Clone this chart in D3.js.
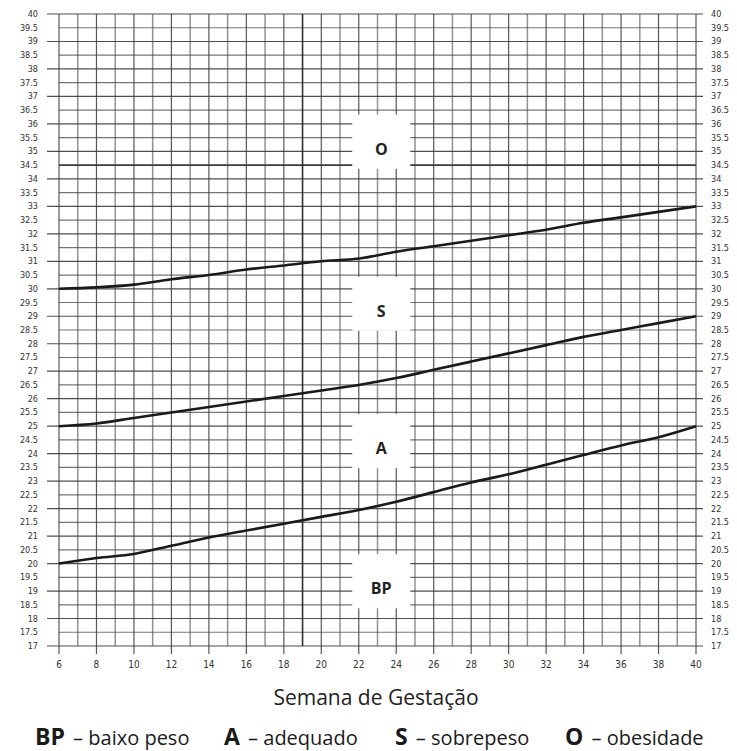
<!DOCTYPE html>
<html><head><meta charset="utf-8">
<script src="https://cdn.jsdelivr.net/npm/d3@7"></script>
<style>body{margin:0;background:#fff}svg{display:block}</style>
</head><body>
<script>
// ---- data ----
const weeks = [6,8,10,12,14,16,18,20,22,24,26,28,30,32,34,36,38,40];
const lineSO  = [30.0,30.05,30.15,30.35,30.5,30.7,30.85,31.0,31.1,31.35,31.55,31.75,31.95,32.15,32.4,32.6,32.8,33.0];
const lineAS  = [25.0,25.1,25.3,25.5,25.7,25.9,26.1,26.3,26.5,26.75,27.05,27.35,27.65,27.95,28.25,28.5,28.75,29.0];
const lineBPA = [20.0,20.2,20.35,20.65,20.95,21.2,21.45,21.7,21.95,22.25,22.6,22.95,23.25,23.6,23.95,24.3,24.6,25.0];
const zoneLabels = ["O","S","A","BP"];
const zoneBMI = [35.1,29.2,24.2,19.1];
const zoneWeek = 23.2;
const xTitle = "Semana de Gestação";
const legendKeys = ["BP","A","S","O"];
const legendTexts = ["– baixo peso","– adequado","– sobrepeso","– obesidade"];

const W = 737, H = 751;
const svg = d3.select("body").append("svg").attr("width",W).attr("height",H);
const x = d3.scaleLinear().domain([6,40]).range([59,696]);
const y = d3.scaleLinear().domain([17,40]).range([646,14]);

const weekAll = d3.range(6,41,1);
const bmiAll = d3.range(17,40.001,0.5);
const g = svg.append("g");
const gridCol = "#3c3c3c";

// horizontal grid
g.selectAll("line.h").data(bmiAll).join("line")
  .attr("x1", d => Number.isInteger(d) ? x(6)-12 : x(6))
  .attr("x2", d => Number.isInteger(d) ? x(40)+7 : x(40))
  .attr("y1", d => y(d)).attr("y2", d => y(d))
  .attr("stroke", d => d===34.5 ? "#262626" : gridCol)
  .attr("stroke-width", d => d===34.5 ? 1.6 : 1.2)
  .attr("opacity", d => Number.isInteger(d) || d===34.5 ? 0.9 : 0.7);

// vertical grid
g.selectAll("line.v").data(weekAll).join("line")
  .attr("x1", d => x(d)).attr("x2", d => x(d))
  .attr("y1", y(40))
  .attr("y2", d => d%2===0 ? y(17)+8 : y(17))
  .attr("stroke", d => d===19 ? "#262626" : gridCol)
  .attr("stroke-width", d => d===19 ? 1.6 : (d%2===1 ? 1.5 : 1.2))
  .attr("opacity", d => d===19 ? 0.95 : (d%2===1 ? 0.55 : 0.85));

// y labels
const fmt = d => Number.isInteger(d) ? String(d) : d.toFixed(1);
const lblFont = "'Liberation Sans Narrow','DejaVu Sans Condensed',sans-serif";
svg.selectAll("text.yl").data(bmiAll).join("text")
  .attr("x", 38).attr("y", d => y(d)+3)
  .attr("text-anchor","end").attr("font-family",lblFont)
  .attr("font-size",9).attr("fill","#333").text(fmt);
svg.selectAll("text.yr").data(bmiAll).join("text")
  .attr("x", 711).attr("y", d => y(d)+3)
  .attr("text-anchor","start").attr("font-family",lblFont)
  .attr("font-size",9).attr("fill","#333").text(fmt);

// x labels
svg.selectAll("text.xl").data(weeks).join("text")
  .attr("x", d => x(d)).attr("y", 668)
  .attr("text-anchor","middle").attr("font-family",lblFont)
  .attr("font-size",10).attr("fill","#333").text(d => d);

// zone label knockouts
const zg = svg.append("g");
zoneLabels.forEach((t,i) => {
  const cx = x(zoneWeek), cy = y(zoneBMI[i]);
  zg.append("rect").attr("x", cx-29).attr("y", cy-34).attr("width",58).attr("height",54).attr("fill","#fff");
});
zoneLabels.forEach((t,i) => {
  zg.append("text").attr("x", x(zoneWeek)).attr("y", y(zoneBMI[i])+6)
    .attr("text-anchor","middle").attr("font-family","'Open Sans',sans-serif")
    .attr("font-weight","bold").attr("font-size",16).attr("fill","#222").text(t);
});

// curves
const line = d3.line().x((d,i) => x(weeks[i])).y(d => y(d)).curve(d3.curveMonotoneX);
[lineSO, lineAS, lineBPA].forEach(s => {
  svg.append("path").datum(s).attr("d", line).attr("fill","none")
    .attr("stroke","#1a1a1a").attr("stroke-width",2.6);
});

// axis title
svg.append("text").attr("x", 376).attr("y", 705).attr("text-anchor","middle")
  .attr("font-family","'Open Sans',sans-serif").attr("font-size",21).attr("fill","#222").text(xTitle);

// legend
const legX = [35, 224, 395, 565];
legendKeys.forEach((k,i) => {
  const t = svg.append("text").attr("x", legX[i]).attr("y", 745)
    .attr("font-family","'Open Sans',sans-serif").attr("fill","#1a1a1a");
  t.append("tspan").attr("font-weight","bold").attr("font-size",23).text(k);
  t.append("tspan").attr("font-size",20).attr("dx",3).text(" " + legendTexts[i]);
});
</script>
</body></html>
